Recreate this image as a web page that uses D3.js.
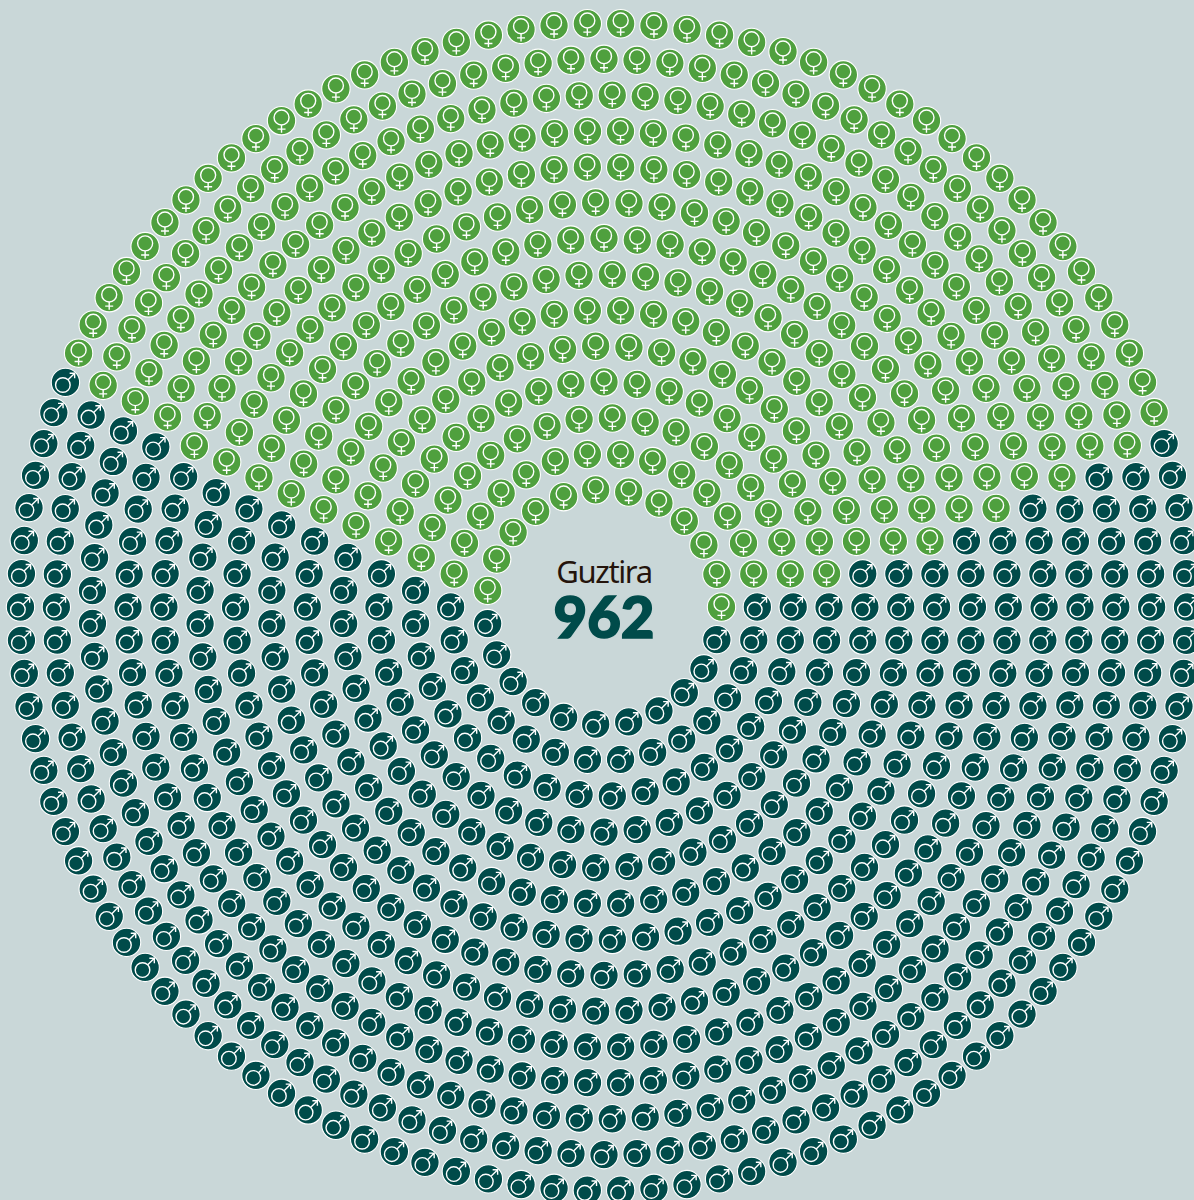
<!DOCTYPE html>
<html><head><meta charset="utf-8">
<script src="https://cdn.jsdelivr.net/npm/d3@7"></script>
<style>html,body{margin:0;padding:0;background:#c9d7d8;overflow:hidden}svg{display:block}</style>
</head><body><svg id="c" width="1194" height="1200"></svg>
<script>
const ringCounts=[23,30,37,44,51,58,65,72,79,86,94,101,108,114];
const femaleStart=[0,1,1,1,2,2,2,3,3,4,4,5,5,6];
const femaleLast=[11,14,17,20,23,26,29,32,35,38,41,44,47,49];
const title="Guztira", total="962";
const colors={female:"#4fa03e",male:"#004b4a"};
const svg=d3.select("#c");
const cx=604,cy=607;
const rScale=d3.scaleLinear().domain([0,13]).range([117.5,583.5]);
const warp=0.0093;
const pts=[];
ringCounts.forEach((n,i)=>{
  const ang=d3.scaleLinear().domain([0,n]).range([0,2*Math.PI]);
  for(let k=0;k<n;k++){
    const a0=ang(k), a=a0+warp*Math.sin(4*a0);
    pts.push({x:cx+rScale(i)*Math.cos(a),y:cy-rScale(i)*Math.sin(a),
      s:(k>=femaleStart[i]&&k<=femaleLast[i])?"female":"male"});
  }
});
const g=svg.selectAll("g.m").data(pts).join("g").attr("class","m").attr("transform",d=>`translate(${d.x},${d.y})`);
g.append("circle").attr("r",14.2).attr("fill",d=>colors[d.s]).attr("stroke","#fff").attr("stroke-width",1.1);
const fg=g.filter(d=>d.s==="female").append("g").attr("fill","none").attr("stroke","#fff").attr("stroke-width",1.4);
fg.append("circle").attr("cy",-3.2).attr("r",7.5);
fg.append("path").attr("d","M0,4.4V12M-4,8.4H4");
const mg=g.filter(d=>d.s==="male").append("g").attr("fill","none").attr("stroke","#fff").attr("stroke-width",1.4);
mg.append("circle").attr("cx",-2.6).attr("cy",2.6).attr("r",7.3);
mg.append("path").attr("d","M2.6,-2.6L9,-9M4.2,-9.2H9.2V-4.2");
svg.append("text").attr("x",604).attr("y",582.5).attr("text-anchor","middle").attr("font-family","Noto Sans").attr("font-size",31).attr("fill","#24140c").attr("letter-spacing",-1.4).text(title);
svg.append("text").attr("x",604).attr("y",638).attr("text-anchor","middle").attr("font-family","Lato").attr("font-weight",900).attr("font-size",58).attr("fill",colors.male).attr("stroke",colors.male).attr("stroke-width",1.6).text(total);
</script></body></html>
